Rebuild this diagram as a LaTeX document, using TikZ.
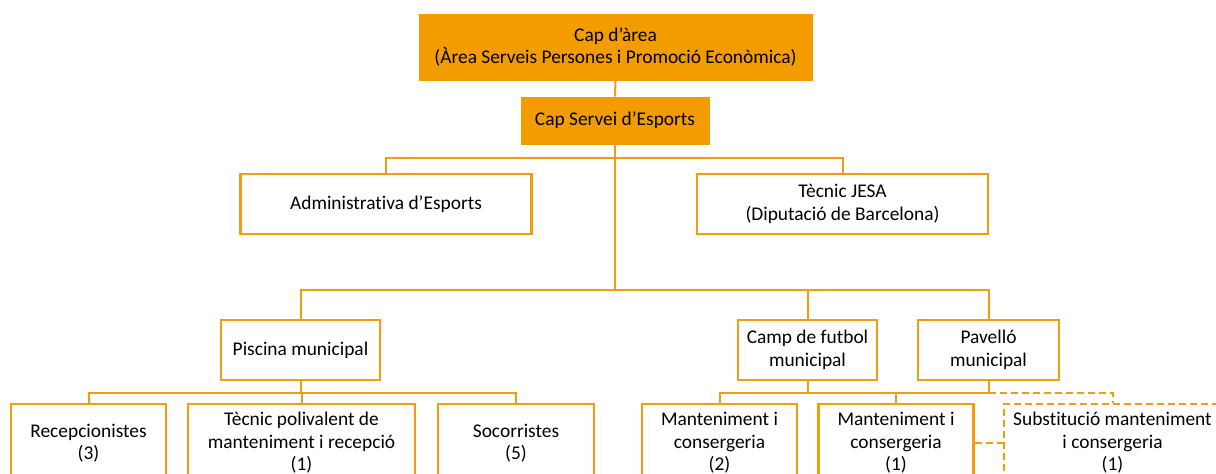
\documentclass[tikz,border=0pt]{standalone}
\usepackage{fontspec}
\setmainfont{Carlito}[Ligatures=NoCommon]
\usetikzlibrary{positioning}
\definecolor{orgfill}{HTML}{F39C00}
\definecolor{orgline}{HTML}{F39C12}

\begin{document}
\begin{tikzpicture}[x=1pt, y=-1pt,
    font=\fontsize{19.4}{22.5}\selectfont,
    every node/.style={align=center, inner sep=0pt},
    headbox/.style={fill=orgfill, draw=orgfill, line width=1pt},
    unitbox/.style={draw=orgline, line width=2.5pt, fill=white},
    tempbox/.style={unitbox, dash pattern=on 7pt off 4pt},
    link/.style={draw=orgline, line width=2pt},
    templink/.style={link, dash pattern=on 7pt off 4pt}]
    \useasboundingbox (0,0) rectangle (1216,474);
    \clip (0,0) rectangle (1216,474);

    \node[headbox, minimum width=393, minimum height=66] (area) at (615.5,47) {Cap d’àrea\\(Àrea Serveis Persones i Promoció Econòmica)};
    \node[headbox, minimum width=188, minimum height=47] (servei) at (615,120.5) {Cap Servei d’Esports};

    \node[unitbox, minimum width=291, minimum height=60] (admin) at (386,204) {Administrativa d’Esports};
    \node[unitbox, minimum width=291, minimum height=60] (jesa) at (842.5,204) {Tècnic JESA\\(Diputació de Barcelona)};

    \node[unitbox, minimum width=159, minimum height=60] (piscina) at (300.5,350) {Piscina municipal};
    \node[unitbox, minimum width=139, minimum height=60] (camp) at (807.5,350) {Camp de futbol\\municipal};
    \node[unitbox, minimum width=141, minimum height=60] (pavello) at (988.5,350) {Pavelló\\municipal};

    \node[unitbox, minimum width=155, minimum height=78] (recep) at (88.5,443) {Recepcionistes\\(3)};
    \node[unitbox, minimum width=227, minimum height=78] (tecnic) at (301.5,443) {Tècnic polivalent de\\manteniment i recepció\\(1)};
    \node[unitbox, minimum width=156, minimum height=78] (socor) at (516,443) {Socorristes\\(5)};
    \node[unitbox, minimum width=155, minimum height=78] (mant2) at (719.5,443) {Manteniment i\\consergeria\\(2)};
    \node[unitbox, minimum width=155, minimum height=78] (mant1) at (896,443) {Manteniment i\\consergeria\\(1)};
    \node[tempbox, minimum width=217, minimum height=78] (subst) at (1112.5,443) {Substitució manteniment\\i consergeria\\(1)};

    \coordinate (b1) at (615,158);
    \coordinate (b2) at (615,290);
    \coordinate (b3) at (300.5,393);
    \coordinate (b4) at (807.5,393);
    \coordinate (b5) at (988.5,393);

    \draw[link] (area.south) -- (servei.north);
    \draw[link] (servei.south) -- (b2);
    \draw[link] (admin.north) |- (b1) -| (jesa.north);
    \draw[link] (piscina.north) |- (b2) -| (pavello.north);
    \draw[link] (camp.north) -- (camp.north |- b2);
    \draw[link] (piscina.south) -- (b3);
    \draw[link] (recep.north) |- (b3) -| (socor.north);
    \draw[link] (tecnic.north) -- (tecnic.north |- b3);
    \draw[link] (camp.south) -- (b4);
    \draw[link] (mant2.north) |- (b4) -| (pavello.south);
    \draw[link] (mant1.north) -- (mant1.north |- b4);
    \draw[templink] (b5) -| (subst.north);
    \draw[templink] (mant1.east) -- (subst.west);
\end{tikzpicture}
\end{document}
